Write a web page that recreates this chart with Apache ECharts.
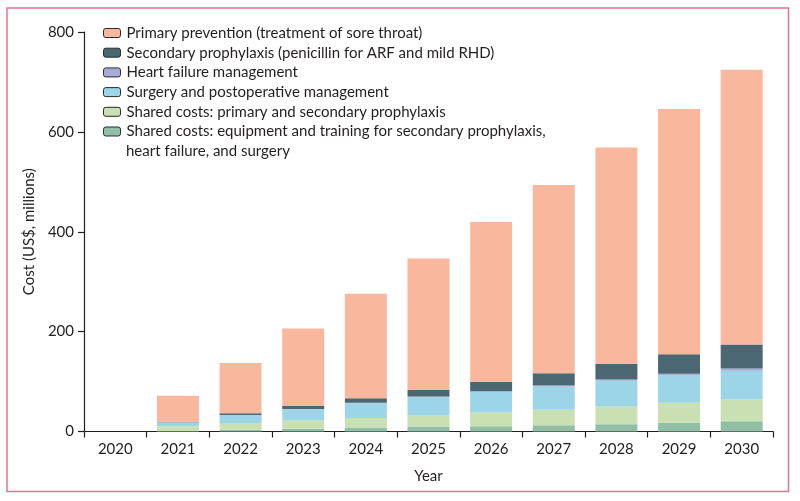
<!DOCTYPE html>
<html>
<head>
<meta charset="utf-8">
<script src="https://cdn.jsdelivr.net/npm/echarts@6/dist/echarts.min.js"></script>
<style>
html,body{margin:0;padding:0;background:#fff;}
#chart{width:800px;height:501px;}
</style>
</head>
<body>
<div id="chart"></div>
<script>
const years = ['2020','2021','2022','2023','2024','2025','2026','2027','2028','2029','2030'];
const yTicks = [0, 200, 400, 600, 800];
const primaryPrevention = [0, 52, 101, 155, 209, 263, 320, 377, 433, 491, 550];
const secondaryProphylaxis = [0, 1.3, 3.5, 6, 9, 13, 18.6, 24.6, 31.5, 39.3, 48];
const heartFailure = [0, 0.5, 0.7, 1, 1, 1.5, 2, 2, 2.6, 3.3, 4.7];
const surgery = [0, 7.5, 15.3, 22, 30, 36, 41, 46.7, 51.5, 54.7, 57.5];
const sharedPrimarySecondary = [0, 9.4, 13.4, 16.7, 18.8, 22.8, 27.5, 30.8, 35.5, 40, 43.5];
const sharedEquipment = [0, 1, 3.4, 5.4, 8, 10, 10.5, 12.6, 14.6, 17.4, 20.6];

const names = {
  primary: 'Primary prevention (treatment of sore throat)',
  secondary: 'Secondary prophylaxis (penicillin for ARF and mild RHD)',
  hf: 'Heart failure management',
  surgery: 'Surgery and postoperative management',
  sharedPS: 'Shared costs: primary and secondary prophylaxis',
  sharedEq: 'Shared costs: equipment and training for secondary prophylaxis, heart failure, and surgery'
};
const colors = {
  primary: '#F9B79D',
  secondary: '#4B6771',
  hf: '#A4ACDA',
  surgery: '#9CD5E8',
  sharedPS: '#C9E0B3',
  sharedEq: '#90BFA6'
};
const FONT = 'Lato';
const TXT = '#231F20';
const FS = 15;

function bar(key, data) {
  return {
    name: names[key], type: 'bar', stack: 'total', data: data,
    barWidth: '67%', itemStyle: { color: colors[key] },
    emphasis: { disabled: true }
  };
}

const chart = echarts.init(document.getElementById('chart'), null, { renderer: 'canvas' });
chart.setOption({
  animation: false,
  textStyle: { fontFamily: FONT },
  grid: { left: 84, right: 27, top: 32, bottom: 69.5, containLabel: false },
  legend: {
    orient: 'vertical', left: 103, top: 25.5, itemGap: 4.7, padding: 0,
    itemWidth: 17, itemHeight: 9,
    selectedMode: false,
    data: [names.primary, names.secondary, names.hf, names.surgery, names.sharedPS, names.sharedEq],
    formatter: function (n) { return n === names.sharedEq ? 'Shared costs: equipment and training for secondary prophylaxis,' : n; },
    textStyle: { fontFamily: FONT, fontSize: FS, color: TXT, padding: [0, 0, 0, 1] },
    itemStyle: { borderColor: '#2a2a2a', borderWidth: 1 }
  },
  graphic: [
    { type: 'rect', shape: { x: 7, y: 8, width: 781.5, height: 483.5 }, style: { fill: 'none', stroke: '#E8718F', lineWidth: 1.5 }, silent: true },
    { type: 'text', left: 126, top: 144, style: { text: 'heart failure, and surgery', font: FS + 'px ' + FONT, fill: TXT } }
  ],
  xAxis: {
    type: 'category', data: years,
    name: 'Year', nameLocation: 'middle', nameGap: 37,
    nameTextStyle: { fontSize: FS, color: TXT, fontFamily: FONT },
    axisLine: { lineStyle: { color: '#231F20', width: 1.2 } },
    axisTick: { show: true, length: 6, lineStyle: { color: '#231F20', width: 1.2 } },
    axisLabel: { fontSize: FS, color: TXT, margin: 10, fontFamily: FONT }
  },
  yAxis: {
    type: 'value', min: yTicks[0], max: yTicks[yTicks.length - 1], interval: 200,
    name: 'Cost (US$, millions)', nameLocation: 'middle', nameGap: 46, nameRotate: 90,
    nameTextStyle: { fontSize: FS, color: TXT, fontFamily: FONT },
    axisLine: { show: true, lineStyle: { color: '#231F20', width: 1.2 } },
    axisTick: { show: true, length: 6, lineStyle: { color: '#231F20', width: 1.2 } },
    axisLabel: { fontSize: FS, color: TXT, margin: 10, fontFamily: FONT },
    splitLine: { show: false }
  },
  series: [
    bar('sharedEq', sharedEquipment),
    bar('sharedPS', sharedPrimarySecondary),
    bar('surgery', surgery),
    bar('hf', heartFailure),
    bar('secondary', secondaryProphylaxis),
    bar('primary', primaryPrevention)
  ]
});
</script>
</body>
</html>
